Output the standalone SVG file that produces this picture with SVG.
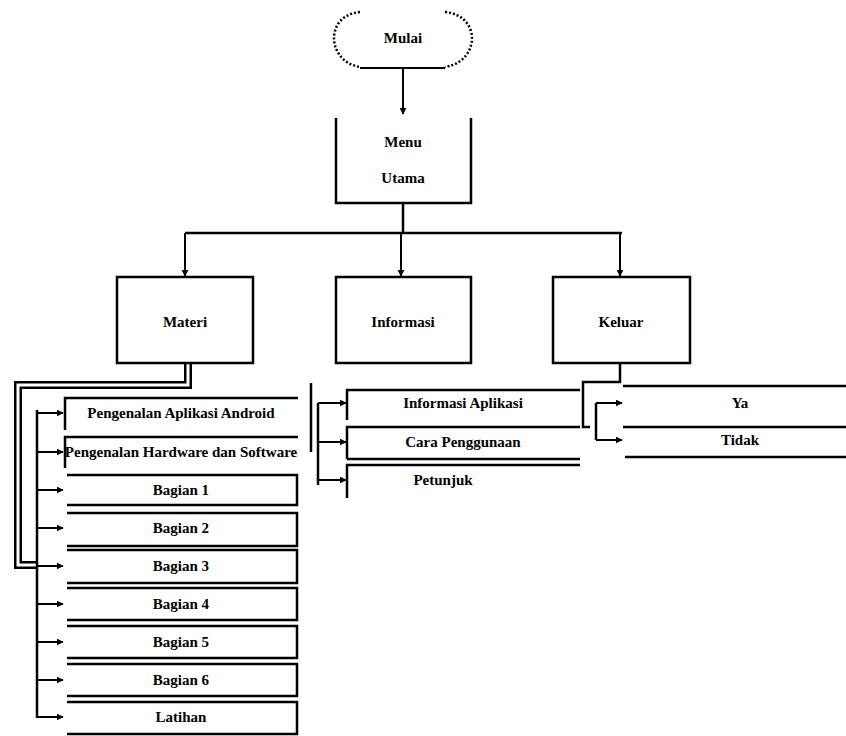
<svg xmlns="http://www.w3.org/2000/svg" width="846" height="736" viewBox="0 0 846 736">
<defs>
<marker id="ah" viewBox="0 0 10 10" refX="9" refY="5" markerWidth="7" markerHeight="7" orient="auto" markerUnits="userSpaceOnUse">
<path d="M0,0 L10,5 L0,10 z" fill="#000"/>
</marker>
<style>
.t{font-family:"Liberation Serif",serif;font-size:15px;font-weight:bold;fill:#000;text-anchor:middle;dominant-baseline:central}
.b{fill:none;stroke:#000;stroke-width:2.5}
.c{fill:none;stroke:#000;stroke-width:2.5}
.a{fill:none;stroke:#000;stroke-width:2;marker-end:url(#ah)}
.dbo{fill:none;stroke:#000;stroke-width:8}
.dbi{fill:none;stroke:#fff;stroke-width:3}
</style>
</defs>
<rect width="846" height="736" fill="#fff"/>
<g id="connectors">
<line class="a" x1="403" y1="68" x2="403" y2="114"/>
<path class="c" d="M403,203 V233" stroke-width="4"/>
<path class="c" d="M185,233 H622" stroke-width="4"/>
<line class="a" x1="185" y1="233" x2="185" y2="276"/>
<line class="a" x1="401" y1="233" x2="401" y2="276"/>
<line class="a" x1="620" y1="233" x2="620" y2="276"/>
<path class="dbo" d="M188,363 V385 H18 V565 H37"/>
<path class="dbi" d="M188,363 V385 H18 V565 H37"/>
<path class="c" d="M37,410 V718" stroke-width="3"/>
<line class="a" x1="37" y1="413" x2="63" y2="413"/>
<line class="a" x1="37" y1="452" x2="63" y2="452"/>
<line class="a" x1="37" y1="490" x2="63" y2="490"/>
<line class="a" x1="37" y1="528" x2="63" y2="528"/>
<line class="a" x1="37" y1="566" x2="63" y2="566"/>
<line class="a" x1="37" y1="604" x2="63" y2="604"/>
<line class="a" x1="37" y1="642" x2="63" y2="642"/>
<line class="a" x1="37" y1="680" x2="63" y2="680"/>
<line class="a" x1="37" y1="717" x2="63" y2="717"/>
<path class="c" d="M311,383 V452"/>
<path class="c" d="M318,403 V485" stroke-width="3"/>
<line class="a" x1="318" y1="403" x2="346" y2="403"/>
<line class="a" x1="318" y1="442" x2="346" y2="442"/>
<line class="a" x1="318" y1="480" x2="346" y2="480"/>
<path class="c" d="M620,363 V382 H583 V427 H590"/>
<path class="c" d="M596,403 V440" stroke-width="3"/>
<line class="a" x1="596" y1="403" x2="622" y2="403"/>
<line class="a" x1="596" y1="440" x2="622" y2="440"/>
</g>
<g id="start">
<path d="M360,12 C340,14 334,28 334,38 C334,50 342,64 360,67" fill="none" stroke="#000" stroke-width="2.5" stroke-dasharray="2 2"/>
<path d="M445,12 C465,14 472,28 472,38 C472,50 464,64 445,67" fill="none" stroke="#000" stroke-width="2.5" stroke-dasharray="2 2"/>
<line x1="360" y1="68" x2="445" y2="68" stroke="#000" stroke-width="2"/>
<text class="t" x="403" y="38">Mulai</text>
</g>
<g id="menu">
<path class="b" d="M336,118 V203 H471 V118"/>
<text class="t" x="403" y="142">Menu</text>
<text class="t" x="403" y="178">Utama</text>
</g>
<g id="materi">
<rect class="b" x="117" y="277" width="136" height="86"/>
<text class="t" x="185" y="322">Materi</text>
</g>
<g id="informasi">
<rect class="b" x="336" y="277" width="135" height="86"/>
<text class="t" x="403" y="322">Informasi</text>
</g>
<g id="keluar">
<rect class="b" x="553" y="277" width="137" height="86"/>
<text class="t" x="621" y="322">Keluar</text>
</g>
<g id="m1"><path class="b" d="M65,430 V398 H298"/><text class="t" x="181" y="413">Pengenalan Aplikasi Android</text></g>
<g id="m2"><path class="b" d="M65,468 V437 H298"/><text class="t" x="181" y="452" font-size="13">Pengenalan Hardware dan Software</text></g>
<g id="m3"><path class="b" d="M67,475 H297 V505 H67"/><text class="t" x="181" y="490">Bagian 1</text></g>
<g id="m4"><path class="b" d="M67,513 H297 V546 H67"/><text class="t" x="181" y="528">Bagian 2</text></g>
<g id="m5"><path class="b" d="M67,550 H297 V583 H67"/><text class="t" x="181" y="566">Bagian 3</text></g>
<g id="m6"><path class="b" d="M67,588 H297 V620 H67"/><text class="t" x="181" y="604">Bagian 4</text></g>
<g id="m7"><path class="b" d="M67,626 H297 V658 H67"/><text class="t" x="181" y="642">Bagian 5</text></g>
<g id="m8"><path class="b" d="M67,664 H297 V696 H67"/><text class="t" x="181" y="680">Bagian 6</text></g>
<g id="m9"><path class="b" d="M67,702 H297 V734 H67"/><text class="t" x="181" y="717">Latihan</text></g>
<g id="i1"><path class="b" d="M347,420 V390 H580"/><text class="t" x="463" y="403">Informasi Aplikasi</text></g>
<g id="i2"><path class="b" d="M347,459 V427 H580 M347,459 H580"/><text class="t" x="463" y="442">Cara Penggunaan</text></g>
<g id="i3"><path class="b" d="M347,498 V465 H580"/><text class="t" x="443" y="480">Petunjuk</text></g>
<g id="k1"><path class="b" d="M623,386 H846"/><text class="t" x="740" y="403">Ya</text></g>
<g id="k2"><path class="b" d="M623,427 H846 M625,457 H846"/><text class="t" x="740" y="440">Tidak</text></g>
</svg>
